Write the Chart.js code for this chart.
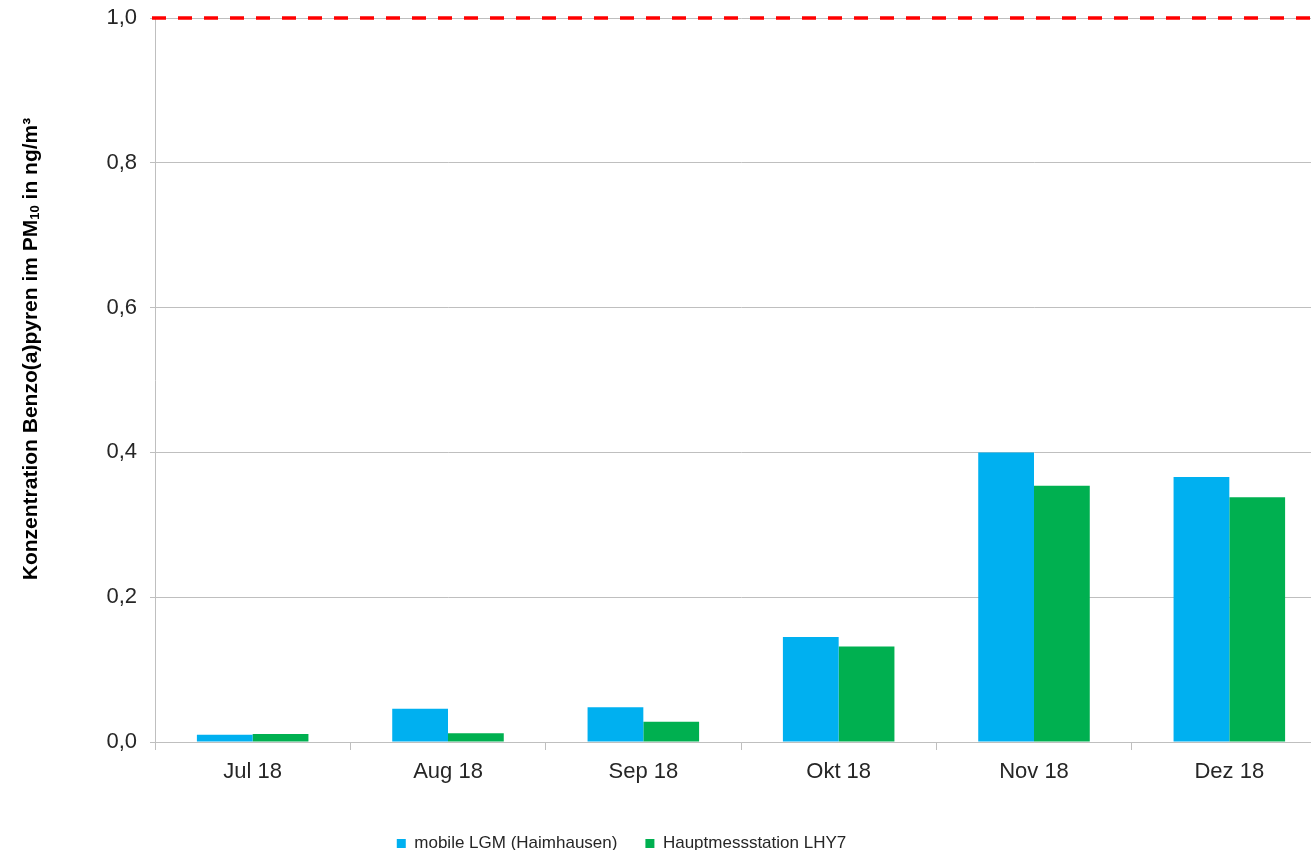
<!DOCTYPE html>
<html>
<head>
<meta charset="utf-8">
<script src="https://cdn.jsdelivr.net/npm/chart.js@4/dist/chart.umd.min.js"></script>
<style>
  html, body { margin: 0; padding: 0; background: #fff; overflow: hidden; }
  #wrap { width: 1330px; height: 850px; }
</style>
</head>
<body>
<div id="wrap"><canvas id="bapChart" width="1330" height="850"></canvas></div>
<script>
const months = ["Jul 18", "Aug 18", "Sep 18", "Okt 18", "Nov 18", "Dez 18"];
const seriesNames = ["mobile LGM (Haimhausen)", "Hauptmessstation LHY7"];
const mobileLgm = [0.010, 0.046, 0.048, 0.145, 0.400, 0.366];
const hauptStation = [0.011, 0.012, 0.028, 0.132, 0.354, 0.338];
const yTicks = [0, 0.2, 0.4, 0.6, 0.8, 1.0];
const limitValue = 1.0;

const fontFam = "'Liberation Sans', Arial, sans-serif";
const textColor = "#262626";
const gridColor = "#bfbfbf";

// red dashed limit line, drawn on the y scale
const limitLine = {
  id: "limitLine",
  afterDatasetsDraw(chart) {
    const { ctx, chartArea, scales } = chart;
    const y = scales.y.getPixelForValue(limitValue);
    ctx.save();
    ctx.strokeStyle = "#ff0000";
    ctx.lineWidth = 3.5;
    ctx.setLineDash([14, 12]);
    ctx.beginPath();
    ctx.moveTo(chartArea.left - 3, y);
    ctx.lineTo(chartArea.right, y);
    ctx.stroke();
    ctx.restore();
  }
};

// y axis title with a real subscript
const yTitle = {
  id: "yTitle",
  afterDraw(chart) {
    const { ctx } = chart;
    const parts = [
      ["Konzentration Benzo(a)pyren im PM", 21, 0],
      ["10", 13, 4],
      [" in ng/m³", 21, 0]
    ];
    ctx.save();
    ctx.translate(31, 349);
    ctx.rotate(-Math.PI / 2);
    ctx.fillStyle = "#000";
    ctx.textBaseline = "middle";
    let total = 0;
    parts.forEach(p => {
      ctx.font = "bold " + p[1] + "px " + fontFam;
      total += ctx.measureText(p[0]).width;
    });
    let x = -total / 2;
    parts.forEach(p => {
      ctx.font = "bold " + p[1] + "px " + fontFam;
      ctx.fillText(p[0], x, p[2]);
      x += ctx.measureText(p[0]).width;
    });
    ctx.restore();
  }
};

// legend sits left of the canvas centre and a bit lower in the original
const legendShift = {
  id: "legendShift",
  afterLayout(chart) {
    chart.legend.left -= 42;
    chart.legend.right -= 42;
    chart.legend.top += 12;
    chart.legend.bottom += 12;
  }
};

new Chart(document.getElementById("bapChart"), {
  type: "bar",
  data: {
    labels: months,
    datasets: [
      {
        label: seriesNames[0],
        data: mobileLgm,
        backgroundColor: "#00b0f0",
        borderWidth: 0
      },
      {
        label: seriesNames[1],
        data: hauptStation,
        backgroundColor: "#00b050",
        borderWidth: 0
      }
    ]
  },
  options: {
    responsive: false,
    animation: false,
    devicePixelRatio: 1,
    layout: { padding: { top: 18, right: 3, left: 0, bottom: 0 } },
    datasets: {
      bar: { categoryPercentage: 0.571, barPercentage: 1.0 }
    },
    scales: {
      x: {
        grid: { display: true, drawOnChartArea: false, tickLength: 8, color: gridColor },
        border: { color: gridColor },
        ticks: { color: textColor, font: { family: fontFam, size: 22 }, padding: 9 },
        afterFit(scale) { scale.height = 53; }
      },
      y: {
        min: 0,
        max: 1,
        afterBuildTicks(scale) { scale.ticks = yTicks.map(v => ({ value: v })); },
        grid: { color: gridColor, tickLength: 5 },
        border: { color: gridColor },
        ticks: {
          color: textColor,
          font: { family: fontFam, size: 22 },
          padding: 13,
          callback: v => v.toFixed(1).replace(".", ",")
        },
        afterFit(scale) {
          scale.width = 155;
          scale.paddingTop = 0;
          scale.paddingBottom = 0;
        }
      }
    },
    plugins: {
      tooltip: { enabled: false },
      legend: {
        position: "bottom",
        labels: {
          boxWidth: 9,
          boxHeight: 9,
          padding: 28,
          color: textColor,
          font: { family: fontFam, size: 17 }
        }
      }
    }
  },
  plugins: [limitLine, yTitle, legendShift]
});
</script>
</body>
</html>
